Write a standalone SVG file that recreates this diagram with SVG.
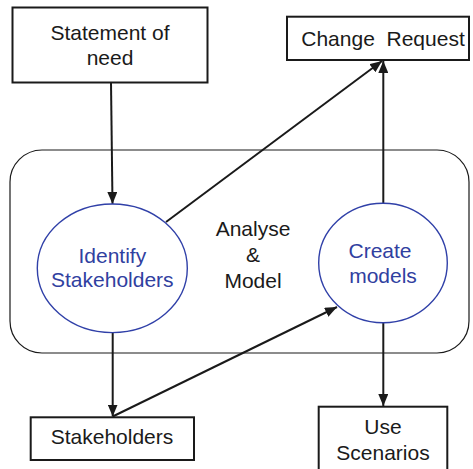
<svg xmlns="http://www.w3.org/2000/svg" width="473" height="469" viewBox="0 0 473 469">
<style>
.box{fill:#fff;stroke:#1a1a1a;stroke-width:2}
.t{font-family:"Liberation Sans",Arial,sans-serif;font-size:21px;fill:#1a1a1a;text-anchor:middle}
.b{fill:#3040a0}
.ell{fill:#fff;stroke:#3040a8;stroke-width:1.4}
.c{stroke:#1a1a1a;stroke-width:2;fill:none}
</style>
<defs>
<marker id="ah" viewBox="0 0 12 10" refX="12" refY="5" markerWidth="12" markerHeight="10" markerUnits="userSpaceOnUse" orient="auto">
<path d="M0,0 L12,5 L0,10 z" fill="#1a1a1a"/>
</marker>
</defs>
<g id="container">
<rect x="10" y="150" width="459" height="203" rx="32" ry="32" fill="none" stroke="#1a1a1a" stroke-width="1.2"/>
<text class="t" x="253" y="236">Analyse</text>
<text class="t" x="253" y="261.5">&amp;</text>
<text class="t" x="253" y="287.5">Model</text>
</g>
<g id="connectors">
<line class="c" x1="111" y1="82.5" x2="112.5" y2="204" marker-end="url(#ah)"/>
<line class="c" x1="166" y1="222" x2="382" y2="61" marker-end="url(#ah)"/>
<line class="c" x1="383.3" y1="203.3" x2="383.3" y2="61" marker-end="url(#ah)"/>
<line class="c" x1="112.7" y1="332.7" x2="112.7" y2="416.5" marker-end="url(#ah)"/>
<line class="c" x1="112.7" y1="416.5" x2="337" y2="307" marker-end="url(#ah)"/>
<line class="c" x1="383.3" y1="322.7" x2="383.3" y2="406" marker-end="url(#ah)"/>
</g>
<g id="statement">
<rect class="box" x="12.5" y="7.5" width="195" height="75"/>
<text class="t" x="110" y="39.5">Statement of</text>
<text class="t" x="110" y="65">need</text>
</g>
<g id="change-request">
<rect class="box" x="287" y="16.7" width="182" height="43.3"/>
<text class="t" x="383" y="46" xml:space="preserve">Change  Request</text>
</g>
<g id="identify">
<ellipse class="ell" cx="112.3" cy="268.3" rx="75" ry="64.3"/>
<text class="t b" x="112.3" y="262.7">Identify</text>
<text class="t b" x="112.3" y="287.3">Stakeholders</text>
</g>
<g id="create">
<ellipse class="ell" cx="383" cy="263" rx="64.3" ry="59.7"/>
<text class="t b" x="380" y="258.3">Create</text>
<text class="t b" x="383" y="282.7">models</text>
</g>
<g id="stakeholders">
<rect class="box" x="30.7" y="417.3" width="163.3" height="42.7"/>
<text class="t" x="112" y="444.3">Stakeholders</text>
</g>
<g id="use-scenarios">
<rect class="box" x="318.7" y="406.7" width="128.6" height="70"/>
<text class="t" x="383" y="434.3">Use</text>
<text class="t" x="383" y="460">Scenarios</text>
</g>
</svg>
